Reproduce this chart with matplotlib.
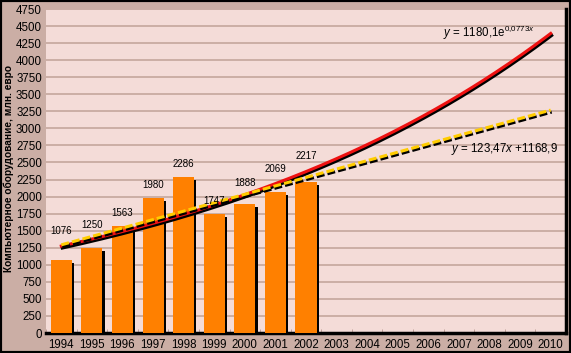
import matplotlib
matplotlib.use("Agg")
import matplotlib.pyplot as plt
import matplotlib.transforms as mtransforms
import numpy as np

years = ["1994", "1995", "1996", "1997", "1998", "1999", "2000", "2001", "2002",
         "2003", "2004", "2005", "2006", "2007", "2008", "2009", "2010"]
values = [1076, 1250, 1563, 1980, 2286, 1747, 1888, 2069, 2217]
label_offsets_pt = [17, 13, 6, 6, 6, 6, 12, 13, 15]
exp_a, exp_b = 1180.1, 0.0773
lin_a, lin_b = 123.47, 1168.9
y_ticks = list(range(0, 4751, 250))

plt.rcParams['font.family'] = ['Liberation Sans', 'DejaVu Sans']
plt.rcParams['mathtext.fontset'] = 'custom'
plt.rcParams['mathtext.rm'] = 'Liberation Sans'
plt.rcParams['mathtext.it'] = 'Liberation Sans:italic'

fig = plt.figure(figsize=(5.71, 3.53), dpi=100)
fig.patch.set_facecolor('#CBAEA5')
W, H = 571, 353
ax = fig.add_axes([46 / W, (H - 333) / H, (566 - 46) / W, (333 - 9) / H])
ax.set_facecolor('#F4DCD8')

n = len(years)
x = np.arange(n)
ax.set_xlim(-0.5, n - 0.5)
ax.set_ylim(0, 4750)
ax.set_yticks(y_ticks)
ax.set_yticklabels([str(t) for t in y_ticks], fontsize=8.3)
ax.set_xticks(x)
ax.set_xticklabels(years, fontsize=8.3)
ax.tick_params(axis='y', length=0, pad=3)
ax.tick_params(axis='x', length=0, pad=4)
ax.set_xticks(np.arange(n + 1) - 0.5, minor=True)
ax.tick_params(axis='x', which='minor', direction='in', length=3, color='#B89890')
for t in y_ticks[1:]:
    ax.axhline(t, color='#C4A69C', lw=1.2, zorder=0.5)

# bars with shadow
shadow = mtransforms.offset_copy(ax.transData, fig=fig, x=2.2, y=-3, units='dots')
xb = x[:len(values)]
ax.bar(xb, values, width=0.69, color='black', transform=shadow, zorder=2)
ax.bar(xb, values, width=0.69, color='#FF8000', zorder=3)
for xi, v, off in zip(xb, values, label_offsets_pt):
    ax.annotate(str(v), (xi, v), xytext=(0, off), textcoords='offset points',
                ha='center', va='bottom', fontsize=7, zorder=6)

# trend lines
t = np.linspace(1, n, 200)
xt = t - 1
yexp = exp_a * np.exp(exp_b * t)
ylin = lin_a * t + lin_b
sh = mtransforms.offset_copy(ax.transData, fig=fig, x=1, y=-2, units='dots')
dash = (0, (2.6, 1.0))
ax.plot(xt, yexp, color='black', lw=2.2, transform=sh, zorder=4.0)
ax.plot(xt, yexp, color='#EE1111', lw=2.2, zorder=4.1)
ax.plot(xt, ylin, color='black', lw=2.2, ls=dash, transform=sh, zorder=4.5)
ax.plot(xt, ylin, color='#FFCC00', lw=2.2, ls=dash, zorder=4.6)

ax.text(0.94, 0.925, r'$\mathit{y}$ = 1180,1e$^{0{,}0773\mathit{x}}$', transform=ax.transAxes,
        ha='right', va='center', fontsize=8.3)
ax.text(0.985, 0.567, r'$\mathit{y}$ = 123,47$\mathit{x}$ +1168,9', transform=ax.transAxes,
        ha='right', va='center', fontsize=8.3)

for s in ['top', 'left']:
    ax.spines[s].set_visible(False)
ax.spines['bottom'].set_linewidth(2.5)
ax.spines['right'].set_linewidth(2.5)
ax.spines['bottom'].set_color('black')
ax.spines['right'].set_color('black')

ax.set_ylabel('Компьютерное оборудование, млн. евро', fontsize=7.3, fontweight='bold')
ax.yaxis.set_label_coords((14 - 46) / 520, (333 - 168) / 324)

fig.add_artist(plt.Rectangle((0, 0), 1, 1, transform=fig.transFigure, fill=False,
                             edgecolor='black', lw=3))
fig.savefig('out.png', dpi=100, facecolor=fig.get_facecolor())
